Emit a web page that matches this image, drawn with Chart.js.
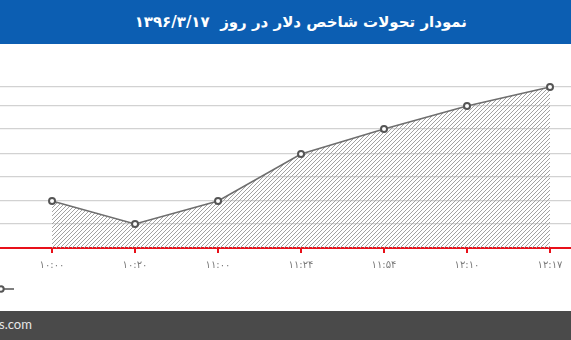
<!DOCTYPE html>
<html lang="fa">
<head>
<meta charset="utf-8">
<title>نمودار تحولات شاخص دلار</title>
<script src="https://cdn.jsdelivr.net/npm/chart.js@4/dist/chart.umd.min.js"></script>
<style>
  html, body { margin: 0; padding: 0; background: #ffffff; }
  body { width: 571px; height: 340px; position: relative; overflow: hidden; }
  #header {
    position: absolute; left: 0; top: 0; width: 571px; height: 44px;
    background: #0c5eb2;
  }
  #title {
    position: absolute; right: 104px; top: 10px;
    direction: rtl; white-space: nowrap;
    color: #ffffff; font: bold 15px "DejaVu Sans", sans-serif; line-height: 24px;
  }
  #plot { position: absolute; left: 0; top: 44px; width: 571px; height: 267px; }
  #footer {
    position: absolute; left: 0; top: 311px; width: 571px; height: 29px;
    background: #4a4a4a;
  }
  #site {
    position: absolute; left: -1px; top: 5px;
    color: #e6e6e6; font: 13px "Lato", sans-serif; white-space: nowrap;
  }
</style>
</head>
<body>
<div id="header"><div id="title">نمودار تحولات شاخص دلار در روز&nbsp; ۱۳۹۶/۳/۱۷</div></div>
<div id="plot"><canvas id="chart" width="571" height="267"></canvas></div>
<div id="footer"><div id="site">s.com</div></div>
<script>
// Trading times during the day (Persian digits)
const times = ['۱۰:۰۰', '۱۰:۲۰', '۱۱:۰۰', '۱۱:۲۴', '۱۱:۵۴', '۱۲:۱۰', '۱۲:۱۷'];
// Dollar index level at each time, relative to the baseline
const values = [47, 24, 47, 94, 119, 142, 161];
// Horizontal guide levels
const gridLevels = [0, 24, 47, 71, 94, 119, 142, 161];

// Diagonal hatch used under the line
function hatchPattern(ctx) {
  const tile = document.createElement('canvas');
  tile.width = 4; tile.height = 4;
  const t = tile.getContext('2d');
  t.strokeStyle = '#a2a2a2';
  t.lineWidth = 1;
  t.beginPath();
  t.moveTo(-1, 1); t.lineTo(1, -1);
  t.moveTo(0, 4); t.lineTo(4, 0);
  t.moveTo(3, 5); t.lineTo(5, 3);
  t.stroke();
  return ctx.createPattern(tile, 'repeat');
}

const canvas = document.getElementById('chart');
const ctx = canvas.getContext('2d');

// Small legend key: marker with a short line
const legendKey = {
  id: 'legendKey',
  afterDraw(chart) {
    const c = chart.ctx;
    const y = 245;
    c.save();
    c.strokeStyle = '#555555';
    c.lineWidth = 1.5;
    c.beginPath();
    c.moveTo(4, y); c.lineTo(14, y);
    c.stroke();
    c.fillStyle = '#ffffff';
    c.lineWidth = 2;
    c.beginPath();
    c.arc(1, y, 2.7, 0, Math.PI * 2);
    c.fill(); c.stroke();
    c.restore();
  }
};

new Chart(ctx, {
  type: 'line',
  data: {
    datasets: [{
      data: values.map((v, i) => ({ x: i, y: v })),
      borderColor: '#6e6e6e',
      borderWidth: 1.5,
      backgroundColor: hatchPattern(ctx),
      fill: 'origin',
      tension: 0,
      pointRadius: 3,
      pointBorderWidth: 2,
      pointBorderColor: '#555555',
      pointBackgroundColor: '#ffffff',
      clip: false
    }]
  },
  options: {
    responsive: false,
    animation: false,
    layout: { autoPadding: false, padding: { top: 43, left: 0, right: 0, bottom: 0 } },
    plugins: { legend: { display: false }, tooltip: { enabled: false } },
    scales: {
      x: {
        type: 'linear',
        min: -0.627,
        max: 6.253,
        afterBuildTicks: (scale) => { scale.ticks = times.map((_, i) => ({ value: i })); },
        afterFit: (scale) => { scale.height = 63; },
        border: { display: false },
        grid: {
          drawOnChartArea: false,
          drawTicks: true,
          tickLength: 5,
          color: '#e8101a',
          lineWidth: 2
        },
        ticks: {
          autoSkip: false,
          maxRotation: 0,
          padding: 6,
          color: '#7a7a7a',
          font: { family: 'DejaVu Sans', size: 10 },
          callback: (v) => times[v]
        }
      },
      y: {
        min: 0,
        max: 161,
        afterBuildTicks: (scale) => { scale.ticks = gridLevels.map(v => ({ value: v })); },
        afterFit: (scale) => { scale.width = 0; },
        border: { display: false },
        grid: {
          drawTicks: false,
          color: (c) => c.tick && c.tick.value === 0 ? '#e8101a' : '#d2d2d2',
          lineWidth: (c) => c.tick && c.tick.value === 0 ? 2 : 1.2
        },
        ticks: { display: false }
      }
    }
  },
  plugins: [legendKey]
});
</script>
</body>
</html>
